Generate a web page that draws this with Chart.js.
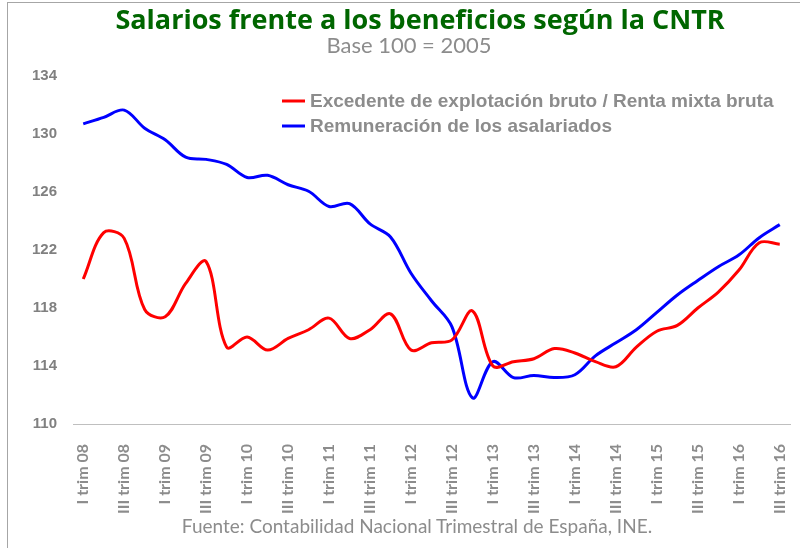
<!DOCTYPE html>
<html>
<head>
<meta charset="utf-8">
<script src="https://cdn.jsdelivr.net/npm/chart.js@4/dist/chart.umd.min.js"></script>
<style>
    body { margin: 0; background: #fff; }
    #wrap { position: relative; width: 800px; height: 548px; overflow: hidden; }
    #frame { position: absolute; left: 7px; top: 2px; width: 820px; height: 560px; border-top: 1px solid #a6a6a6; border-left: 1px solid #a6a6a6; }
    #title { position: absolute; left: 20px; width: 800px; top: 0px; text-align: center; font: bold 27px "Open Sans", sans-serif; color: #006600; }
    #subtitle { position: absolute; left: 9px; width: 800px; top: 31px; text-align: center; font: 22px Lato, sans-serif; color: #8c8c8c; }
    #source { position: absolute; left: 17px; width: 800px; top: 514px; text-align: center; font: 19px Lato, sans-serif; color: #8c8c8c; }
    canvas { position: absolute; left: 0; top: 0; }
</style>
</head>
<body>
<div id="wrap">
    <div id="frame"></div>
    <canvas id="chart" width="800" height="548"></canvas>
    <div id="title">Salarios frente a los beneficios según la CNTR</div>
    <div id="subtitle">Base 100 = 2005</div>
    <div id="source">Fuente: Contabilidad Nacional Trimestral de España, INE.</div>
</div>
<script>
const quarters = [
    "I trim 08", "II trim 08", "III trim 08", "IV trim 08",
    "I trim 09", "II trim 09", "III trim 09", "IV trim 09",
    "I trim 10", "II trim 10", "III trim 10", "IV trim 10",
    "I trim 11", "II trim 11", "III trim 11", "IV trim 11",
    "I trim 12", "II trim 12", "III trim 12", "IV trim 12",
    "I trim 13", "II trim 13", "III trim 13", "IV trim 13",
    "I trim 14", "II trim 14", "III trim 14", "IV trim 14",
    "I trim 15", "II trim 15", "III trim 15", "IV trim 15",
    "I trim 16", "II trim 16", "III trim 16"
];

// Excedente de explotación bruto / Renta mixta bruta
const excedente = [
    120.0, 123.2, 122.8, 117.9,
    117.4, 119.7, 121.2, 115.3,
    116.0, 115.1, 115.9, 116.5,
    117.3, 115.9, 116.5, 117.6,
    115.1, 115.6, 115.8, 117.8,
    114.0, 114.3, 114.5, 115.2,
    114.9, 114.3, 113.95, 115.3,
    116.4, 116.8, 118.0, 119.1,
    120.6, 122.5, 122.4
];

// Remuneración de los asalariados
const remuneracion = [
    130.7, 131.15, 131.65, 130.4,
    129.6, 128.4, 128.25, 127.9,
    127.0, 127.15, 126.5, 126.05,
    125.0, 125.2, 123.8, 122.9,
    120.4, 118.5, 116.7, 111.8,
    114.3, 113.2, 113.35, 113.2,
    113.4, 114.7, 115.6, 116.5,
    117.7, 118.9, 119.9, 120.85,
    121.65, 122.85, 123.75
];

const yTicks = [110, 114, 118, 122, 126, 130, 134];

const seriesNames = [
    "Excedente de explotación bruto / Renta mixta bruta",
    "Remuneración de los asalariados"
];

// legend drawn inside the plot, two stacked rows
const insideLegend = {
    id: 'insideLegend',
    afterDraw(chart) {
        const ctx = chart.ctx;
        ctx.save();
        ctx.font = 'bold 19px "Liberation Sans", Arial, sans-serif';
        ctx.textBaseline = 'middle';
        chart.data.datasets.forEach((ds, i) => {
            const y = 101 + i * 25;
            ctx.strokeStyle = ds.borderColor;
            ctx.lineWidth = 3;
            ctx.beginPath();
            ctx.moveTo(282, y);
            ctx.lineTo(305, y);
            ctx.stroke();
            ctx.fillStyle = '#8c8c8c';
            ctx.fillText(ds.label, 310, y + 1);
        });
        ctx.restore();
    }
};

new Chart(document.getElementById('chart'), {
    type: 'line',
    data: {
        labels: quarters,
        datasets: [{
            label: seriesNames[0],
            data: excedente,
            borderColor: '#ff0000',
            borderWidth: 3,
            pointRadius: 0,
            tension: 0.35
        }, {
            label: seriesNames[1],
            data: remuneracion,
            borderColor: '#0000ff',
            borderWidth: 3,
            pointRadius: 0,
            tension: 0.35
        }]
    },
    options: {
        responsive: false,
        animation: false,
        layout: { padding: { top: 76, right: 10, left: 0, bottom: 0 } },
        plugins: {
            legend: { display: false },
            tooltip: { enabled: false }
        },
        scales: {
            x: {
                offset: true,
                grid: { display: false },
                border: { display: true, color: '#bfbfbf', width: 1 },
                afterFit: (s) => { s.height = 124; s.paddingLeft = 0; s.paddingRight = 0; },
                ticks: {
                    autoSkip: false,
                    minRotation: 90,
                    maxRotation: 90,
                    padding: 12,
                    color: '#8c8c8c',
                    font: { family: 'Lato', weight: 'bold', size: 16 },
                    callback: function (value, index) {
                        return index % 2 === 0 ? quarters[index] : '';
                    }
                }
            },
            y: {
                min: yTicks[0],
                max: yTicks[yTicks.length - 1],
                grid: { display: false },
                border: { display: false },
                afterFit: (s) => { s.width = 73; },
                afterBuildTicks: (s) => { s.ticks = yTicks.map(v => ({ value: v })); },
                ticks: {
                    padding: 8,
                    color: '#808080',
                    font: { family: '"Liberation Sans", Arial', weight: 'bold', size: 15 }
                }
            }
        }
    },
    plugins: [insideLegend]
});
</script>
</body>
</html>
